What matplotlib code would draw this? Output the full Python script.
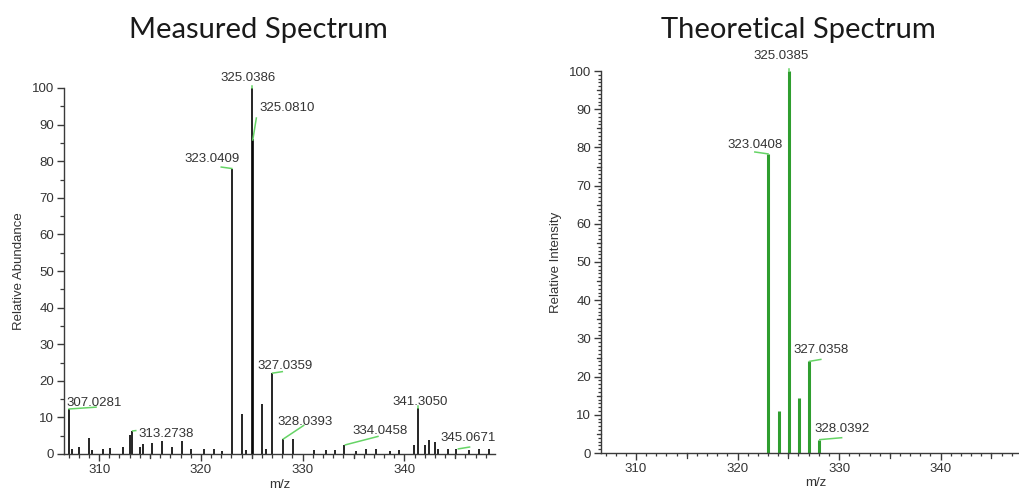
import matplotlib
matplotlib.use("Agg")
import matplotlib.pyplot as plt
from matplotlib.ticker import MultipleLocator

plt.rcParams["font.family"] = ["Liberation Sans", "DejaVu Sans"]

# ---- measured spectrum (m/z, relative abundance) ----
measured_mz = [307.0281, 307.3, 308.0, 309.0, 309.3, 310.4, 311.1, 312.3,
               313.05, 313.2738, 314.05, 314.3, 315.2, 316.2, 317.2, 318.15,
               319.05, 320.35, 321.3, 322.1, 323.0409, 324.04, 324.4,
               325.0386, 325.0810, 326.04, 326.4, 327.0359, 328.0393, 329.04,
               331.1, 332.3, 333.2, 334.0458, 335.2, 336.2, 337.2, 338.6,
               339.5, 340.9, 341.3050, 342.0, 342.4, 343.0, 343.3, 344.3,
               345.0671, 346.3, 347.3, 348.3]
measured_int = [12.2, 1.5, 2.0, 4.5, 1.0, 1.3, 1.7, 2.0,
                5.2, 6.3, 2.0, 2.6, 2.9, 3.5, 2.0, 3.5,
                1.5, 1.3, 1.3, 0.9, 78.0, 11.0, 1.0,
                100.0, 86.0, 13.6, 1.5, 22.1, 4.0, 4.0,
                1.1, 1.1, 1.1, 2.5, 0.9, 1.3, 1.3, 0.8,
                1.1, 2.5, 12.5, 2.5, 3.8, 3.4, 1.5, 1.4,
                1.5, 1.1, 1.5, 1.5]
measured_labeled = [307.0281, 313.2738, 323.0409, 325.0386, 325.0810,
                    327.0359, 328.0393, 334.0458, 341.3050, 345.0671]

# ---- theoretical isotope pattern (m/z, relative intensity) ----
theory_mz = [323.0408, 324.0442, 325.0385, 326.0419, 327.0358, 328.0392]
theory_int = [78.3, 11.0, 100.0, 14.3, 24.0, 3.4]
theory_labeled = [323.0408, 325.0385, 327.0358, 328.0392]

x_range = (306.55, 348.9)

# label placement: (text x, text y, leader start, leader end) in data units
measured_layout = {
    307.0281: (309.5, 13.9, (307.05, 12.3), (309.7, 12.8)),
    313.2738: (316.6, 5.5, (313.3, 6.3), (313.6, 6.4)),
    323.0409: (321.1, 80.6, (322.0, 78.4), (323.04, 78.0)),
    325.0386: (324.6, 102.7, (325.04, 100.0), (325.04, 100.6)),
    325.0810: (328.5, 94.5, (325.45, 91.8), (325.1, 85.8)),
    327.0359: (328.3, 24.0, (327.05, 22.1), (328.0, 22.5)),
    328.0393: (330.25, 8.7, (328.1, 4.1), (330.1, 7.8)),
    334.0458: (337.6, 6.3, (334.2, 2.5), (337.4, 4.8)),
    341.3050: (341.55, 14.3, (341.31, 12.5), (341.31, 13.0)),
    345.0671: (346.3, 4.4, (345.3, 1.4), (346.4, 1.9)),
}
theory_layout = {
    323.0408: (321.7, 80.6, (321.7, 78.8), (323.0, 78.3)),
    325.0385: (324.3, 103.9, (325.04, 100.0), (325.04, 100.6)),
    327.0358: (328.2, 27.0, (327.1, 24.0), (328.2, 24.5)),
    328.0392: (330.25, 6.3, (328.1, 3.5), (330.25, 4.0)),
}

TEXT_COLOR = "#333333"
LEADER = "#66d466"
AXIS_COLOR = "#3a3a3a"

fig = plt.figure(figsize=(10.2, 4.92), dpi=100)
ax1 = fig.add_axes([64 / 1020, 38 / 492, 431 / 1020, 366 / 492])
ax2 = fig.add_axes([601 / 1020, 39 / 492, 430 / 1020, 382 / 492])


def style_axes(ax, ylabel, dense):
    for side in ("top", "right"):
        ax.spines[side].set_visible(False)
    for side in ("left", "bottom"):
        ax.spines[side].set_color(AXIS_COLOR)
        ax.spines[side].set_linewidth(1.0)
    ax.set_xlim(*x_range)
    ax.set_ylim(0, 100)
    ax.xaxis.set_major_locator(MultipleLocator(10))
    ax.xaxis.set_minor_locator(MultipleLocator(1))
    ax.yaxis.set_major_locator(MultipleLocator(10))
    ax.yaxis.set_minor_locator(MultipleLocator(1 if dense else 5))
    ax.tick_params(which="major", length=5, width=1.0, color=AXIS_COLOR,
                   labelsize=9.5, labelcolor=TEXT_COLOR, pad=2)
    ax.tick_params(which="minor", length=2.5 if dense else 3, width=0.9,
                   color=AXIS_COLOR)
    ax.set_xlabel("m/z", fontsize=9.5, color=TEXT_COLOR, labelpad=2)
    ax.set_ylabel(ylabel, fontsize=9.5, color=TEXT_COLOR, labelpad=5)
    # intermediate ticks every 5 units
    for v in range(310, 349, 5):
        if v % 10:
            ax.plot([v, v], [0, -0.012], transform=ax.get_xaxis_transform(),
                    color=AXIS_COLOR, lw=0.9, clip_on=False)
    if dense:
        for v in range(5, 100, 10):
            ax.plot([-0.009, 0], [v, v], transform=ax.get_yaxis_transform(),
                    color=AXIS_COLOR, lw=0.9, clip_on=False)


def add_labels(ax, layout):
    for mz, (tx, ty, p0, p1) in layout.items():
        ax.plot([p0[0], p1[0]], [p0[1], p1[1]], color=LEADER, lw=1.1,
                clip_on=False, zorder=3)
        ax.text(tx, ty, f"{mz:.4f}", ha="center", va="center",
                fontsize=9.5, color=TEXT_COLOR, clip_on=False, zorder=4)


style_axes(ax1, "Relative Abundance", dense=False)
ax1.vlines(measured_mz, 0, measured_int, color="black", lw=1.2, zorder=2)
add_labels(ax1, {m: measured_layout[m] for m in measured_labeled})

style_axes(ax2, "Relative Intensity", dense=True)
ax2.vlines(theory_mz, 0, theory_int, color="#2f9e2f", lw=2.2, zorder=2)
add_labels(ax2, {m: theory_layout[m] for m in theory_labeled})

fig.text(258 / 1020, 1 - 30 / 492, "Measured Spectrum", ha="center",
         va="center", fontsize=21, fontfamily="Lato", color="#1a1a1a")
fig.text(798 / 1020, 1 - 30 / 492, "Theoretical Spectrum", ha="center",
         va="center", fontsize=21, fontfamily="Lato", color="#1a1a1a")

fig.savefig("out.png", dpi=100)
